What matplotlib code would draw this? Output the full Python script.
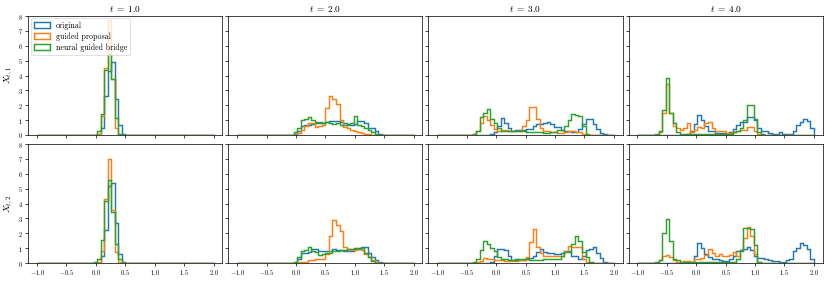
import numpy as np
import matplotlib.pyplot as plt

plt.rcParams['font.family'] = 'serif'
plt.rcParams['font.serif'] = ['cmr10']
plt.rcParams['mathtext.fontset'] = 'cm'
plt.rcParams['axes.formatter.use_mathtext'] = True

times = [1.0, 2.0, 3.0, 4.0]
labels = ['original', 'guided proposal', 'neural guided bridge']
colors = ['tab:blue', 'tab:orange', 'tab:green']
edges = np.linspace(-1.0, 2.0, 51)

# each series: (index of first bin, density heights from there on)
# --- X_{t,1} ---
orig_x1_t1 = (17, [0.05, 0.5, 2.6, 4.3, 4.9, 2.4, 0.7, 0.05])
guid_x1_t1 = (17, [0.1, 1.3, 4.5, 7.75, 3.75, 0.45, 0.03])
neur_x1_t1 = (16, [0.03, 0.25, 1.4, 4.4, 5.45, 3.75, 1.15, 0.05])

orig_x1_t2 = (16, [0.05, 0.3, 0.6, 0.7, 0.7, 0.75, 0.8, 0.8, 0.8, 0.85, 0.95, 0.95, 0.95,
                   0.85, 0.8, 0.7, 0.7, 0.75, 0.95, 0.95, 0.8, 0.5, 0.45, 0.25, 0.1, 0.03])
guid_x1_t2 = (16, [0.02, 0.15, 0.35, 0.6, 0.8, 0.8, 0.55, 0.6, 0.65, 1.8, 2.65, 2.45, 2.1,
                   1.0, 0.55, 0.45, 0.35, 0.3, 0.2, 0.15, 0.1, 0.05, 0.02])
neur_x1_t2 = (15, [0.03, 0.2, 0.5, 1.0, 1.1, 1.2, 1.0, 0.85, 0.85, 0.8, 0.85, 0.8, 0.75,
                   0.8, 0.7, 0.7, 0.75, 0.8, 1.3, 0.7, 0.6, 0.5, 0.35, 0.2, 0.1, 0.03])

orig_x1_t3 = (15, [0.05, 0.2, 0.6, 1.15, 0.8, 0.5, 0.3, 0.35, 0.35, 0.35, 0.4, 0.4, 0.6,
                   0.75, 0.75, 0.8, 0.9, 0.75, 0.55, 0.55, 0.35, 0.25, 0.25, 0.2, 0.2,
                   0.4, 0.75, 1.05, 1.1, 0.75, 0.4, 0.15, 0.05])
guid_x1_t3 = (10, [0.1, 0.3, 0.8, 1.3, 1.0, 0.7, 0.4, 0.3, 0.35, 0.35, 0.3, 0.3, 0.25,
                   0.3, 0.6, 1.0, 1.9, 1.85, 1.1, 0.5, 0.3, 0.3, 0.2, 0.2, 0.15, 0.15,
                   0.2, 0.25, 0.25, 0.2, 0.2, 0.1, 0.03])
neur_x1_t3 = (9, [0.02, 0.05, 0.25, 1.2, 1.5, 1.75, 1.1, 0.8, 0.45, 0.3, 0.3, 0.3, 0.25,
                  0.25, 0.3, 0.3, 0.2, 0.2, 0.2, 0.2, 0.2, 0.15, 0.15, 0.2, 0.2, 0.35,
                  0.35, 0.6, 1.0, 1.4, 1.35, 1.3, 0.6, 0.1])

orig_x1_t4 = (14, [0.05, 0.3, 0.75, 1.35, 1.0, 0.6, 0.3, 0.25, 0.15, 0.15, 0.15, 0.15,
                   0.2, 0.4, 0.7, 0.9, 0.9, 1.2, 1.2, 1.0, 0.5, 0.3, 0.3, 0.15, 0.1,
                   0.1, 0.2, 0.1, 0.1, 0.1, 0.3, 0.7, 0.85, 1.1, 0.95, 0.5])
guid_x1_t4 = (6, [0.2, 1.5, 3.4, 1.5, 0.6, 0.45, 0.35, 0.45, 0.8, 0.2, 0.35, 0.55, 0.45,
                  0.8, 0.85, 0.45, 0.25, 0.3, 0.3, 0.15, 0.15, 0.2, 0.3, 0.35, 0.35,
                  0.55, 0.55, 0.3, 0.1])
neur_x1_t4 = (5, [0.05, 0.3, 1.7, 3.8, 1.5, 0.8, 0.2, 0.1, 0.1, 0.1, 0.05, 0.05, 0.05,
                  0.05, 0.05, 0.05, 0.05, 0.05, 0.05, 0.05, 0.05, 0.1, 0.2, 0.25, 0.5,
                  1.0, 2.0, 2.05, 1.1, 0.2, 0.05])

# --- X_{t,2} ---
orig_x2_t1 = (17, [0.03, 0.45, 2.2, 5.2, 5.4, 2.7, 0.6, 0.05, 0.02])
guid_x2_t1 = (17, [0.1, 0.8, 4.3, 7.0, 3.55, 0.75, 0.1])
neur_x2_t1 = (16, [0.05, 0.3, 1.55, 4.15, 5.6, 3.45, 1.25, 0.3, 0.02])

orig_x2_t2 = (16, [0.02, 0.3, 0.65, 0.65, 0.75, 0.95, 0.95, 0.8, 0.8, 0.8, 0.8, 0.95, 0.9,
                   0.85, 0.8, 0.8, 0.8, 0.95, 0.95, 1.05, 1.05, 0.7, 0.4, 0.2, 0.1, 0.02])
guid_x2_t2 = (17, [0.05, 0.1, 0.1, 0.2, 0.2, 0.25, 0.25, 0.3, 0.6, 1.8, 2.9, 2.55, 2.15,
                   1.1, 0.95, 0.85, 0.85, 1.0, 0.9, 0.6, 0.4, 0.2, 0.05])
neur_x2_t2 = (16, [0.1, 0.4, 0.8, 0.9, 1.1, 0.8, 0.75, 0.55, 0.6, 0.65, 0.7, 0.8, 0.8,
                   0.9, 0.9, 0.95, 0.95, 1.0, 1.0, 1.0, 0.7, 0.4, 0.15, 0.03])

orig_x2_t3 = (15, [0.1, 0.5, 0.95, 0.95, 0.85, 0.45, 0.2, 0.3, 0.2, 0.2, 0.35, 0.35, 0.5,
                   0.75, 0.95, 0.75, 0.7, 0.7, 0.6, 0.6, 0.7, 0.8, 0.8, 0.5, 0.5, 0.3,
                   0.5, 0.85, 0.95, 1.05, 0.7, 0.35, 0.1])
guid_x2_t3 = (11, [0.05, 0.15, 0.35, 0.3, 0.25, 0.2, 0.2, 0.2, 0.15, 0.15, 0.15, 0.15,
                   0.2, 0.2, 0.4, 1.4, 2.3, 1.05, 0.65, 0.45, 0.45, 0.45, 0.5, 0.5, 0.5,
                   0.8, 1.15, 1.1, 1.1, 1.1, 0.3, 0.05])
neur_x2_t3 = (10, [0.1, 0.3, 0.9, 1.45, 1.3, 1.0, 0.8, 0.4, 0.3, 0.3, 0.2, 0.2, 0.2, 0.3,
                   0.3, 0.25, 0.2, 0.2, 0.2, 0.2, 0.25, 0.25, 0.3, 0.3, 0.3, 0.5, 0.75,
                   0.75, 1.3, 1.85, 1.45, 0.75, 0.4, 0.05])

orig_x2_t4 = (15, [0.05, 0.5, 1.35, 1.0, 0.6, 0.4, 0.25, 0.25, 0.2, 0.15, 0.15, 0.3, 0.5,
                   0.8, 0.8, 0.95, 1.05, 0.9, 0.5, 0.35, 0.35, 0.25, 0.2, 0.15, 0.15,
                   0.1, 0.1, 0.2, 0.3, 0.8, 1.0, 1.35, 1.2, 0.95, 0.3])
guid_x2_t4 = (6, [0.2, 0.5, 0.55, 0.4, 0.2, 0.1, 0.1, 0.15, 0.15, 0.1, 0.3, 0.25, 0.35,
                  0.55, 0.95, 0.65, 0.45, 0.6, 0.45, 0.45, 0.55, 0.75, 0.5, 0.9, 1.7,
                  2.45, 1.8, 0.6, 0.1])
neur_x2_t4 = (5, [0.05, 0.2, 2.0, 2.95, 1.5, 0.3, 0.2, 0.1, 0.1, 0.1, 0.1, 0.05, 0.05,
                  0.05, 0.05, 0.05, 0.05, 0.05, 0.05, 0.05, 0.05, 0.1, 0.1, 0.3, 0.9,
                  2.35, 2.35, 2.3, 1.2, 0.1])

rows = [
    [(orig_x1_t1, guid_x1_t1, neur_x1_t1), (orig_x1_t2, guid_x1_t2, neur_x1_t2),
     (orig_x1_t3, guid_x1_t3, neur_x1_t3), (orig_x1_t4, guid_x1_t4, neur_x1_t4)],
    [(orig_x2_t1, guid_x2_t1, neur_x2_t1), (orig_x2_t2, guid_x2_t2, neur_x2_t2),
     (orig_x2_t3, guid_x2_t3, neur_x2_t3), (orig_x2_t4, guid_x2_t4, neur_x2_t4)],
]
ylabels = [r'$X_{t,1}$', r'$X_{t,2}$']


def heights(series):
    start, vals = series
    h = np.zeros(len(edges) - 1)
    h[start:start + len(vals)] = vals
    return h


dpi = 52
fig, axes = plt.subplots(2, 4, sharex=True, sharey=True,
                         figsize=(831 / dpi, 281 / dpi), dpi=dpi)
fig.subplots_adjust(left=0.034, right=0.990, top=0.943, bottom=0.064,
                    wspace=0.031, hspace=0.076)

for r in range(2):
    for c in range(4):
        ax = axes[r, c]
        for series, col, lab in zip(rows[r][c], colors, labels):
            ax.hist(edges[:-1], bins=edges, weights=heights(series),
                    histtype='step', color=col, lw=2.0, label=lab)
        ax.tick_params(labelsize=9, length=4, width=1.0)
        for sp in ax.spines.values():
            sp.set_linewidth(1.0)
        if r == 0:
            ax.set_title(r'$t\;=\;%.1f$' % times[c], fontsize=13)
        if c == 0:
            ax.set_ylabel(ylabels[r], fontsize=13)

axes[0, 0].set_ylim(0, 8)
axes[0, 0].set_yticks(range(9))
axes[0, 0].set_xticks([-1.0, -0.5, 0.0, 0.5, 1.0, 1.5, 2.0])
axes[0, 0].legend(loc='upper left', fontsize=11, borderaxespad=0.3,
                  handlelength=2.0, labelspacing=0.3)

fig.savefig('out.png', dpi=dpi)
